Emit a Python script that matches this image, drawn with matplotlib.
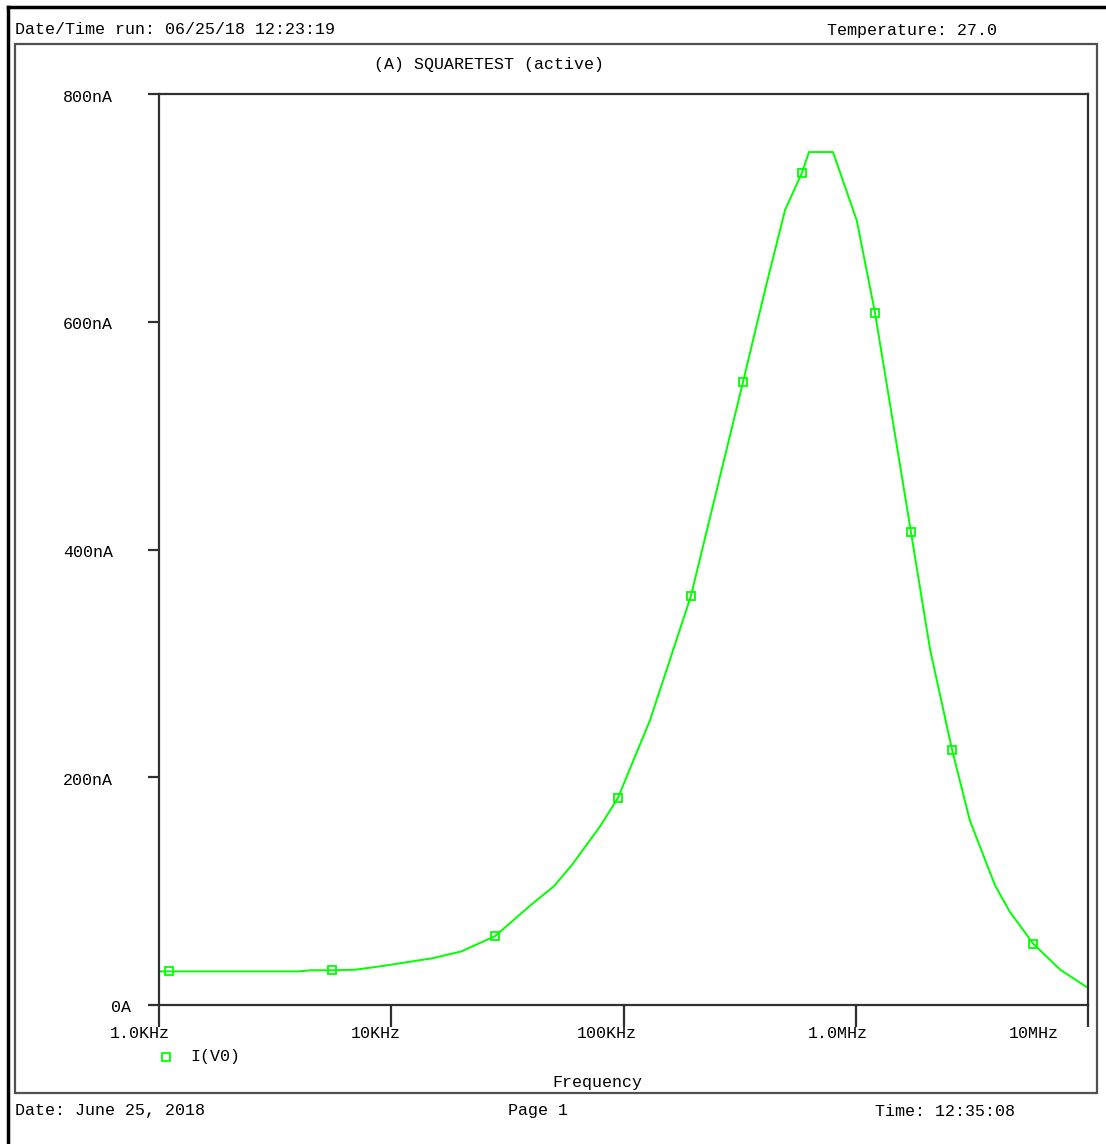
import matplotlib.pyplot as plt
import matplotlib.transforms as mtransforms
from matplotlib.lines import Line2D
from matplotlib.patches import Rectangle

# AC sweep of I(V0), frequency in Hz and current in nA
freq_hz = [1.0e3, 1.104e3, 4.0e3, 4.5e3, 5.56e3, 7.0e3, 9.0e3, 15e3, 20e3, 28e3,
           40e3, 50e3, 60e3, 80e3, 94.7e3, 130e3, 195e3, 327e3, 407e3, 496e3, 587e3,
           629e3, 798e3, 1.01e6, 1.21e6, 1.73e6, 2.09e6, 2.60e6, 3.10e6, 3.98e6,
           4.6e6, 5.80e6, 7.59e6, 10e6]
i_na = [29.5, 29.5, 29.5, 30.5, 30.5, 31, 34, 41, 47, 60.5,
        88, 104, 123, 158, 182, 250, 359, 547, 628, 698, 731,
        749, 749, 689, 608, 415, 312, 224, 162, 105,
        82, 54, 31, 15]
marker_idx = [1, 4, 9, 14, 16, 17, 20, 24, 25, 27, 31]

x_ticks = [1e3, 1e4, 1e5, 1e6, 1e7]
x_labels = ["1.0KHz", "10KHz", "100KHz", "1.0MHz", "10MHz"]
y_ticks = [0, 200, 400, 600, 800]
y_labels = ["0A", "200nA", "400nA", "600nA", "800nA"]

W, H = 1106, 1144
mono = "Liberation Mono"
fs = 12
green = "#00ff00"
frame = "#303030"

fig = plt.figure(figsize=(W / 100, H / 100), dpi=100)

def fx(px):
    return px / W

def fy(py):
    return 1 - py / H

# page borders
fig.add_artist(Line2D([fx(8), 1], [fy(7), fy(7)], color="black", lw=2.5))
fig.add_artist(Line2D([fx(8), fx(8)], [0, fy(7)], color="black", lw=2.5))
fig.add_artist(Rectangle((fx(15), fy(1093)), fx(1097) - fx(15), fy(44) - fy(1093),
                         fill=False, edgecolor="#505050", lw=1.6))

fig.text(fx(15), fy(30), "Date/Time run: 06/25/18 12:23:19", family=mono, fontsize=fs, va="center")
fig.text(fx(997), fy(30), "Temperature: 27.0", family=mono, fontsize=fs, va="center", ha="right")
fig.text(fx(489), fy(64), "(A) SQUARETEST (active)", family=mono, fontsize=fs, va="center", ha="center")
fig.text(fx(15), fy(1111), "Date: June 25, 2018", family=mono, fontsize=fs, va="center")
fig.text(fx(538), fy(1111), "Page 1", family=mono, fontsize=fs, va="center", ha="center")
fig.text(fx(875), fy(1111), "Time: 12:35:08", family=mono, fontsize=fs, va="center")
fig.text(fx(597), fy(1083), "Frequency", family=mono, fontsize=fs, va="center", ha="center")

ax = fig.add_axes([fx(159), fy(1005), fx(1088) - fx(159), fy(94) - fy(1005)])
ax.set_xscale("log")
ax.set_xlim(1e3, 1e7)
ax.set_ylim(0, 800)

ax.plot(freq_hz, i_na, color=green, lw=1.4, marker="s", markersize=6,
        markerfacecolor="none", markeredgecolor=green, markeredgewidth=1.3,
        markevery=marker_idx)

for s in ax.spines.values():
    s.set_color(frame)
    s.set_linewidth(1.6)

ax.set_xticks(x_ticks)
ax.set_xticks([], minor=True)
ax.set_yticks(y_ticks)
ax.tick_params(axis="x", direction="out", length=16, width=1.6, color=frame, labelbottom=False)
ax.tick_params(axis="y", direction="out", length=8, width=1.6, color=frame, labelleft=False)

# tick labels placed the way the simulator prints them
bx = mtransforms.blended_transform_factory(ax.transData, ax.transAxes)
x_shift = [-19, -15, -17, -18, -54]
for v, lab, dx in zip(x_ticks, x_labels, x_shift):
    off = mtransforms.ScaledTranslation(dx / 100, -28 / 100, fig.dpi_scale_trans)
    ax.text(v, 0, lab, transform=bx + off, family=mono, fontsize=fs,
            ha="center", va="center", clip_on=False)

by = mtransforms.blended_transform_factory(ax.transAxes, ax.transData)
for v, lab in zip(y_ticks, y_labels):
    dx = -28 if lab == "0A" else -46
    off = mtransforms.ScaledTranslation(dx / 100, -3 / 100, fig.dpi_scale_trans)
    ax.text(0, v, lab, transform=by + off, family=mono, fontsize=fs,
            ha="right", va="center", clip_on=False)

# legend entry below the axis
fig.add_artist(Line2D([fx(166)], [fy(1057)], marker="s", markersize=6,
                      markerfacecolor="none", markeredgecolor=green, markeredgewidth=1.3))
fig.text(fx(190), fy(1057), "I(V0)", family=mono, fontsize=fs, va="center")

fig.savefig("out.png", dpi=100)
